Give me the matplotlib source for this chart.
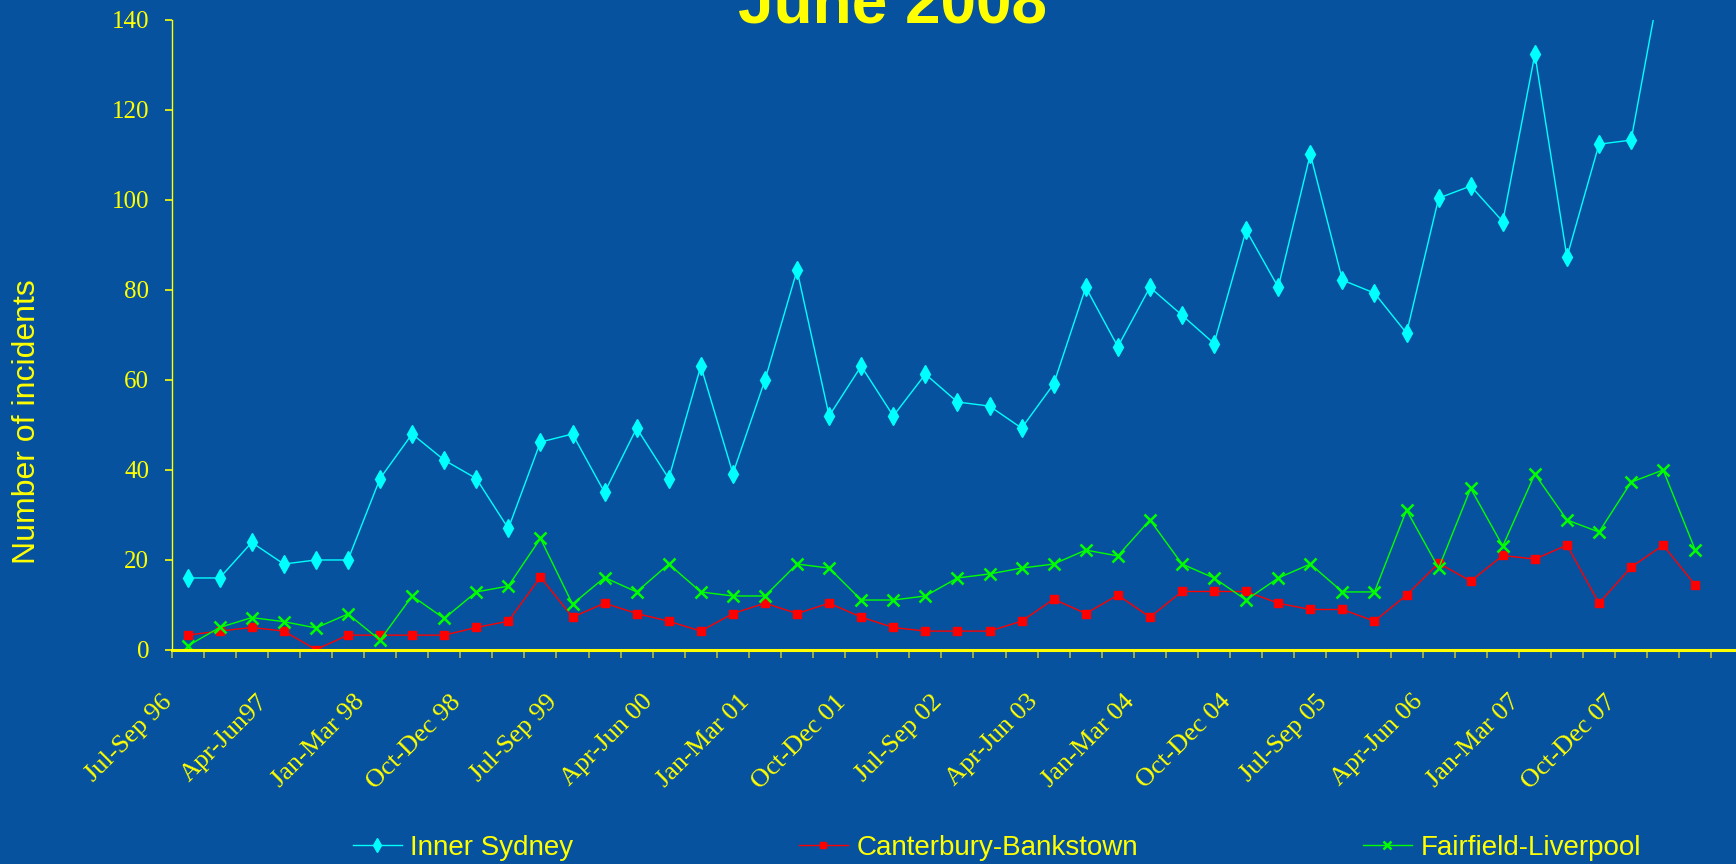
import matplotlib
matplotlib.use("Agg")
import matplotlib.pyplot as plt
import matplotlib.transforms as mtransforms
import numpy as np

# ---- data (quarterly, Jul-Sep 96 .. Apr-Jun 08) ----
inner_sydney = [16.0, 16.0, 23.9, 19.1, 20.0, 20.0, 38.1, 48.0, 42.2, 38.1,
                27.0, 46.2, 48.0, 35.0, 49.3, 38.1, 63.1, 39.2, 60.0, 84.4,
                52.0, 63.1, 52.0, 61.3, 55.1, 54.2, 49.3, 59.1, 80.6, 67.4,
                80.6, 74.4, 68.1, 93.3, 80.6, 110.2, 82.2, 79.3, 70.4, 100.4,
                103.1, 95.2, 132.4, 87.3, 112.4, 113.3, 152.0, 147.0]
canterbury = [3.3, 4.2, 5.0, 4.2, 0.1, 3.3, 3.3, 3.3, 3.3, 5.0,
              6.4, 16.2, 7.3, 10.4, 8.1, 6.4, 4.2, 8.1, 10.4, 8.1,
              10.4, 7.3, 5.0, 4.2, 4.2, 4.2, 6.4, 11.3, 8.1, 12.2,
              7.3, 13.0, 13.0, 13.0, 10.4, 9.0, 9.0, 6.4, 12.2, 19.3,
              15.3, 21.0, 20.2, 23.3, 10.4, 18.4, 23.3, 14.4]
fairfield = [0.9, 5.0, 7.2, 6.3, 4.9, 8.0, 2.2, 12.0, 7.0, 12.9,
             14.2, 24.8, 10.2, 16.1, 12.9, 19.1, 12.9, 12.0, 12.0, 19.1,
             18.2, 11.1, 11.1, 12.0, 16.0, 16.9, 18.2, 19.1, 22.2, 20.9,
             28.9, 19.1, 16.0, 11.1, 16.0, 19.1, 12.9, 12.9, 31.1, 18.2,
             35.9, 23.1, 39.1, 28.9, 26.2, 37.3, 40.0, 22.2]
tick_labels = ["Jul-Sep 96", "Apr-Jun97", "Jan-Mar 98", "Oct-Dec 98",
               "Jul-Sep 99", "Apr-Jun 00", "Jan-Mar 01", "Oct-Dec 01",
               "Jul-Sep 02", "Apr-Jun 03", "Jan-Mar 04", "Oct-Dec 04",
               "Jul-Sep 05", "Apr-Jun 06", "Jan-Mar 07", "Oct-Dec 07"]
series_names = ["Inner Sydney", "Canterbury-Bankstown", "Fairfield-Liverpool"]

BG = "#07529E"
YEL = "#FFFF00"

fig = plt.figure(figsize=(17.36, 8.64), dpi=100, facecolor=BG)
ax = fig.add_axes([0.0988, 0.2477, 0.9012, 0.7292], facecolor=BG)

x = np.arange(len(inner_sydney))
ax.plot(x, inner_sydney, color="#00FFFF", lw=1.0, marker="d", ms=9,
        mec="#00FFFF", label=series_names[0])
ax.plot(x, canterbury, color="#FF0000", lw=1.0, marker="s", ms=6,
        mec="#FF0000", label=series_names[1])
ax.plot(x, fairfield, color="#00FF00", lw=1.0, marker="x", ms=8, mew=1.8,
        label=series_names[2])

n = len(inner_sydney)
ax.set_xlim(-0.5, -0.5 + 48.77)
ax.set_ylim(0, 140)
ax.set_yticks(range(0, 141, 20))

# boundary ticks (major) + label positions (minor)
ax.set_xticks(np.arange(-0.5, n, 1.0))
ax.set_xticklabels([])
ax.set_xticks(np.arange(0, n, 3), minor=True)
ax.set_xticklabels(tick_labels, minor=True, rotation=45, ha="right",
                   va="center", rotation_mode="anchor",
                   family="Liberation Serif", fontsize=19, color=YEL)
ax.tick_params(axis="x", which="major", direction="out", length=6,
               width=1.2, color="#B4BE3C")
ax.tick_params(axis="x", which="minor", length=0, pad=35)
ax.tick_params(axis="y", direction="out", length=5, width=1.2, color=YEL,
               labelcolor=YEL, labelsize=18, pad=11)
for lab in ax.get_yticklabels():
    lab.set_family("Liberation Serif")
offset = mtransforms.ScaledTranslation(-19 / 100, 0, fig.dpi_scale_trans)
for lab in ax.get_xticklabels(minor=True):
    lab.set_transform(lab.get_transform() + offset)

for s in ("top", "right"):
    ax.spines[s].set_visible(False)
ax.spines["bottom"].set_color(YEL)
ax.spines["bottom"].set_linewidth(2.2)
ax.spines["left"].set_color(YEL)
ax.spines["left"].set_linewidth(1.0)

fig.text(27 / 1736, 1 - 422 / 864, "Number of incidents", rotation=90,
         ha="center", va="center", color=YEL, fontsize=23,
         family="Liberation Sans")
fig.text(892 / 1736, 1 - 23 / 864, "June 2008", ha="center", va="baseline",
         color=YEL, fontsize=46, fontweight="bold", family="Liberation Sans")

leg = fig.legend(loc="center", bbox_to_anchor=(997 / 1736, 1 - 848 / 864),
                 ncol=3, frameon=False, fontsize=20, handlelength=1.76,
                 handletextpad=0.32, columnspacing=8.1, markerscale=0.8,
                 prop={"family": "Liberation Sans", "size": 20})
for t in leg.get_texts():
    t.set_color(YEL)

fig.savefig("out.png", dpi=100, facecolor=BG)
